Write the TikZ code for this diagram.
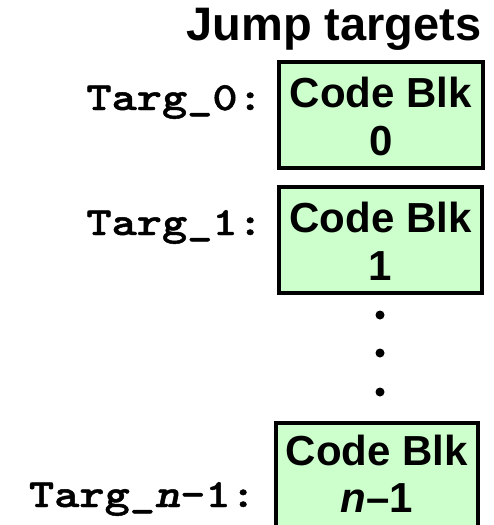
\documentclass[tikz,border=0pt]{standalone}
\usepackage{fontspec}
\setmainfont{Liberation Sans}
\newfontfamily\courlike{lmmonolt10-bold.otf}[FakeStretch=1.2, FakeBold=1.2, ItalicFont=lmmonolt10-boldoblique.otf]
\definecolor{blkgreen}{HTML}{CCFFCC}
\begin{document}
\begin{tikzpicture}[x=1pt,y=-1pt,
  codebox/.style={draw=black,fill=blkgreen,line width=4pt,rectangle,inner sep=0pt},
  boxtext/.style={font=\fontsize{42}{48}\selectfont\bfseries,inner sep=0pt,anchor=base},
  targ/.style={font=\fontsize{40}{48}\selectfont\courlike,inner sep=0pt,anchor=base east},
  title/.style={font=\fontsize{47}{52}\selectfont\bfseries,inner sep=0pt,anchor=base},
  dot/.style={circle,fill=black,inner sep=0pt,minimum size=9pt}]
\useasboundingbox (0,0) rectangle (494,525);
\clip (0,0) rectangle (494,525);
\node[title] (ttl) at (334,40) {Jump targets};
% boxes
\node[codebox,minimum width=204pt,minimum height=106pt] (b0) at (381,115) {};
\node[codebox,minimum width=203pt,minimum height=106pt] (b1) at (380.5,240) {};
\node[codebox,minimum width=202pt,minimum height=117pt] (bn) at (377,481.5) {};
% box texts
\node[boxtext] (b0a) at (381,107) {Code Blk};
\node[boxtext] (b0b) at (381,155) {0};
\node[boxtext] (b1a) at (380.5,232) {Code Blk};
\node[boxtext] (b1b) at (380.5,280) {1};
\node[boxtext] (bna) at (377,465) {Code Blk};
\node[boxtext] (bnb) at (377,512) {\itshape n\upshape{}–1};
% labels
\node[targ] (t0) at (263,110) {Targ\_0:};
\node[targ] (t1) at (263,235) {Targ\_1:};
\node[targ] (tn) at (256,507) {Targ\_\textit{n}-1:};
% dots
\node[dot] (d1) at (380,315) {};
\node[dot] (d2) at (380,353) {};
\node[dot] (d3) at (380,392) {};
\end{tikzpicture}
\end{document}
